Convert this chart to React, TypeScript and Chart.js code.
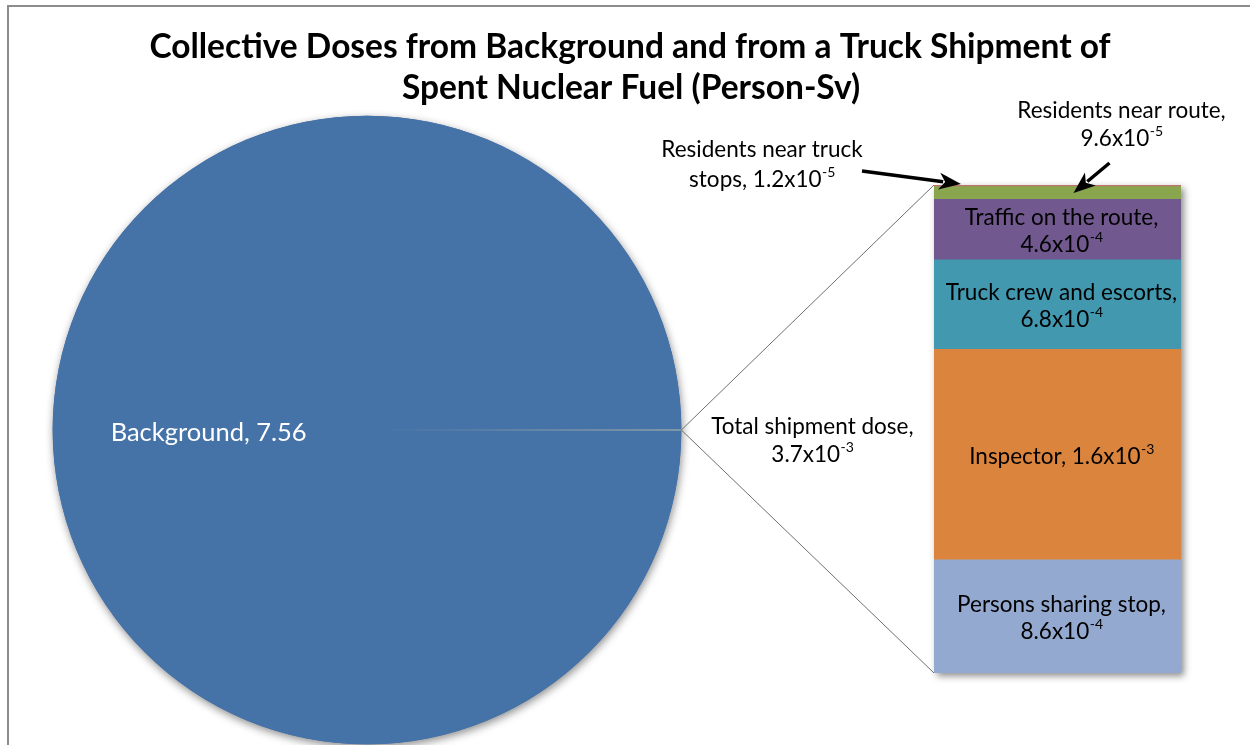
import React, { useEffect, useRef } from "react";
import { Chart, registerables } from "chart.js";

Chart.register(...registerables);

const W = 1250;
const H = 745;
const FONT = "Lato, 'Open Sans', sans-serif";

const TITLE_LINES = [
  "Collective Doses from Background and from a Truck Shipment of",
  "Spent Nuclear Fuel (Person-Sv)",
];

const PIE_LABELS = ["Total shipment dose", "Background"];
const PIE_VALUES = [0.0037, 7.56];
const PIE_COLORS = ["#b9bba6", "#4572A7"];

const BAR_LABELS = [
  "Persons sharing stop",
  "Inspector",
  "Truck crew and escorts",
  "Traffic on the route",
  "Residents near route",
  "Residents near truck stops",
];
const BAR_VALUES = [8.6e-4, 1.6e-3, 6.8e-4, 4.6e-4, 9.6e-5, 1.2e-5];
const BAR_COLORS = ["#93A9CF", "#DB843D", "#4198AF", "#71588F", "#89A54E", "#C0736C"];
const BAR_LABEL_LINES = [
  ["Persons sharing stop,", "{v}"],
  ["Inspector, {v}"],
  ["Truck crew and escorts,", "{v}"],
  ["Traffic on the route,", "{v}"],
  ["Residents near route,", "{v}"],
  ["Residents near truck", "stops, {v}"],
];
const TOTAL_LABEL_LINES = ["Total shipment dose,", "{v}"];

function fmtSci(v: number): string {
  const e = Math.floor(Math.log10(v) + 1e-9);
  const m = (v / Math.pow(10, e)).toFixed(1);
  return `${m}x10^${e}`;
}

function drawRich(
  ctx: CanvasRenderingContext2D,
  text: string,
  x: number,
  y: number,
  size: number,
  color: string,
  align: "center" | "left" = "center"
) {
  const [base, sup] = text.split("^");
  const supSize = Math.round(size * 0.64);
  ctx.save();
  ctx.textBaseline = "middle";
  ctx.textAlign = "left";
  ctx.fillStyle = color;
  ctx.font = `${size}px ${FONT}`;
  const wb = ctx.measureText(base).width;
  let ws = 0;
  if (sup) {
    ctx.font = `${supSize}px ${FONT}`;
    ws = ctx.measureText(sup).width;
  }
  const start = align === "center" ? x - (wb + ws) / 2 : x;
  ctx.font = `${size}px ${FONT}`;
  ctx.fillText(base, start, y);
  if (sup) {
    ctx.font = `${supSize}px ${FONT}`;
    ctx.fillText(sup, start + wb + 0.5, y - size * 0.32);
  }
  ctx.restore();
}

function drawArrow(ctx: CanvasRenderingContext2D, x1: number, y1: number, x2: number, y2: number) {
  const ang = Math.atan2(y2 - y1, x2 - x1);
  const headLen = 22;
  const headW = 8.5;
  const bx = x2 - Math.cos(ang) * headLen;
  const by = y2 - Math.sin(ang) * headLen;
  ctx.save();
  ctx.strokeStyle = "#000";
  ctx.fillStyle = "#000";
  ctx.lineWidth = 3.5;
  ctx.beginPath();
  ctx.moveTo(x1, y1);
  ctx.lineTo(bx + Math.cos(ang) * 4, by + Math.sin(ang) * 4);
  ctx.stroke();
  ctx.beginPath();
  ctx.moveTo(x2, y2);
  ctx.lineTo(bx + Math.sin(ang) * headW, by - Math.cos(ang) * headW);
  ctx.lineTo(bx + Math.cos(ang) * 6, by + Math.sin(ang) * 6);
  ctx.lineTo(bx - Math.sin(ang) * headW, by + Math.cos(ang) * headW);
  ctx.closePath();
  ctx.fill();
  ctx.restore();
}

export default function App() {
  const pieRef = useRef<HTMLCanvasElement>(null);
  const barRef = useRef<HTMLCanvasElement>(null);

  useEffect(() => {
    if (!pieRef.current || !barRef.current) return;
    const pieTotal = PIE_VALUES.reduce((a, b) => a + b, 0);
    const barTotal = BAR_VALUES.reduce((a, b) => a + b, 0);
    const smallAngle = (PIE_VALUES[0] / pieTotal) * 360;

    const pieShadow = {
      id: "pieShadow",
      beforeDatasetsDraw(chart: any) {
        const el = chart.getDatasetMeta(0).data[1];
        if (!el) return;
        const ctx = chart.ctx;
        ctx.save();
        ctx.shadowColor = "rgba(0,0,0,0.45)";
        ctx.shadowBlur = 8;
        ctx.shadowOffsetX = 1;
        ctx.shadowOffsetY = 3;
        ctx.fillStyle = PIE_COLORS[1];
        ctx.beginPath();
        ctx.arc(el.x, el.y, el.outerRadius, 0, Math.PI * 2);
        ctx.fill();
        ctx.restore();
      },
      afterDatasetsDraw(chart: any) {
        const el = chart.getDatasetMeta(0).data[1];
        if (!el) return;
        drawRich(
          chart.ctx,
          `${PIE_LABELS[1]}, ${PIE_VALUES[1].toFixed(2)}`,
          el.x - el.outerRadius + 58,
          el.y + 3,
          25.5,
          "#ffffff",
          "left"
        );
      },
    };

    const pie = new Chart(pieRef.current, {
      type: "pie",
      data: {
        labels: PIE_LABELS,
        datasets: [
          {
            data: PIE_VALUES,
            backgroundColor: PIE_COLORS,
            borderColor: [PIE_COLORS[0], PIE_COLORS[1]],
            borderWidth: [1.3, 0],
          },
        ],
      },
      options: {
        animation: false,
        responsive: false,
        events: [],
        rotation: 90 - smallAngle / 2,
        layout: { padding: { left: 52, right: W - 682, top: 115, bottom: 0 } },
        plugins: {
          legend: { display: false },
          tooltip: { enabled: false },
          title: { display: false },
        },
      },
      plugins: [pieShadow],
    } as any);

    const barShadow = {
      id: "barShadow",
      beforeDatasetsDraw(chart: any) {
        const a = chart.chartArea;
        const ctx = chart.ctx;
        ctx.save();
        ctx.shadowColor = "rgba(0,0,0,0.45)";
        ctx.shadowBlur = 7;
        ctx.shadowOffsetX = 3;
        ctx.shadowOffsetY = 3;
        ctx.fillStyle = "#ffffff";
        ctx.fillRect(a.left, a.top, a.right - a.left, a.bottom - a.top);
        ctx.restore();
      },
    };

    const overlay = {
      id: "overlay",
      afterDraw(chart: any) {
        const ctx = chart.ctx;
        const a = chart.chartArea;
        // outer border
        ctx.save();
        ctx.strokeStyle = "#8c8c8c";
        ctx.lineWidth = 2;
        ctx.strokeRect(8, 6, W + 50, H + 50);
        ctx.restore();

        // title
        ctx.save();
        ctx.fillStyle = "#000";
        ctx.textAlign = "center";
        ctx.textBaseline = "middle";
        ctx.font = `bold 33.5px ${FONT}`;
        ctx.fillText(TITLE_LINES[0], 630, 47);
        ctx.fillText(TITLE_LINES[1], 631, 88);
        ctx.restore();

        // connector lines from pie slice to bar
        const pel = pie.getDatasetMeta(0).data[1] as any;
        const px = pel.x + pel.outerRadius;
        const py = pel.y;
        ctx.save();
        ctx.strokeStyle = "#6f6f6f";
        ctx.lineWidth = 1;
        ctx.beginPath();
        ctx.moveTo(px, py);
        ctx.lineTo(a.left, a.top);
        ctx.moveTo(px, py);
        ctx.lineTo(a.left, a.bottom);
        ctx.stroke();
        ctx.restore();

        const FS = 22.5;
        // total shipment label
        const tv = fmtSci(PIE_VALUES[0]);
        TOTAL_LABEL_LINES.forEach((ln, j) => {
          drawRich(ctx, ln.replace("{v}", tv), px + 131, py - 3 + j * 28, FS, "#000");
        });

        // segment labels
        for (let i = 0; i < 4; i++) {
          const el = chart.getDatasetMeta(i).data[0] as any;
          const cy = (el.y + el.base) / 2 + 2;
          const lines = BAR_LABEL_LINES[i];
          const v = fmtSci(BAR_VALUES[i]);
          const lh = 27;
          lines.forEach((ln, j) => {
            const y = cy + (j - (lines.length - 1) / 2) * lh;
            drawRich(ctx, ln.replace("{v}", v), el.x + 4, y, FS, "#000");
          });
        }

        // callout: residents near route
        {
          const el = chart.getDatasetMeta(4).data[0] as any;
          const v = fmtSci(BAR_VALUES[4]);
          BAR_LABEL_LINES[4].forEach((ln, j) => {
            drawRich(ctx, ln.replace("{v}", v), el.x + 64, a.top - 74 + j * 28, FS, "#000");
          });
          drawArrow(ctx, el.x + 52, a.top - 22, el.x + 16, a.top + 8);
        }
        // callout: residents near truck stops
        {
          const v = fmtSci(BAR_VALUES[5]);
          BAR_LABEL_LINES[5].forEach((ln, j) => {
            drawRich(ctx, ln.replace("{v}", v), a.left - 172, a.top - 35 + j * 30, FS, "#000");
          });
          drawArrow(ctx, a.left - 72, a.top - 14, a.left + 27, a.top - 1);
        }
      },
    };

    const bar = new Chart(barRef.current, {
      type: "bar",
      data: {
        labels: ["Total shipment dose"],
        datasets: BAR_VALUES.map((v, i) => ({
          label: BAR_LABELS[i],
          data: [v],
          backgroundColor: BAR_COLORS[i],
          borderWidth: 0,
          barPercentage: 1,
          categoryPercentage: 1,
        })),
      },
      options: {
        animation: false,
        responsive: false,
        events: [],
        layout: { padding: { left: 934, right: W - 1181, top: 185, bottom: H - 673 } },
        scales: {
          x: { stacked: true, display: false },
          y: { stacked: true, display: false, min: 0, max: barTotal },
        },
        plugins: {
          legend: { display: false },
          tooltip: { enabled: false },
          title: { display: false },
        },
      },
      plugins: [barShadow, overlay],
    } as any);

    return () => {
      bar.destroy();
      pie.destroy();
    };
  }, []);

  return (
    <div
      style={{
        position: "fixed",
        left: 0,
        top: 0,
        width: W,
        height: H,
        overflow: "hidden",
        background: "#ffffff",
      }}
    >
      <canvas
        ref={pieRef}
        width={W}
        height={H}
        style={{ position: "absolute", left: 0, top: 0, width: W, height: H }}
      />
      <canvas
        ref={barRef}
        width={W}
        height={H}
        style={{ position: "absolute", left: 0, top: 0, width: W, height: H }}
      />
    </div>
  );
}
